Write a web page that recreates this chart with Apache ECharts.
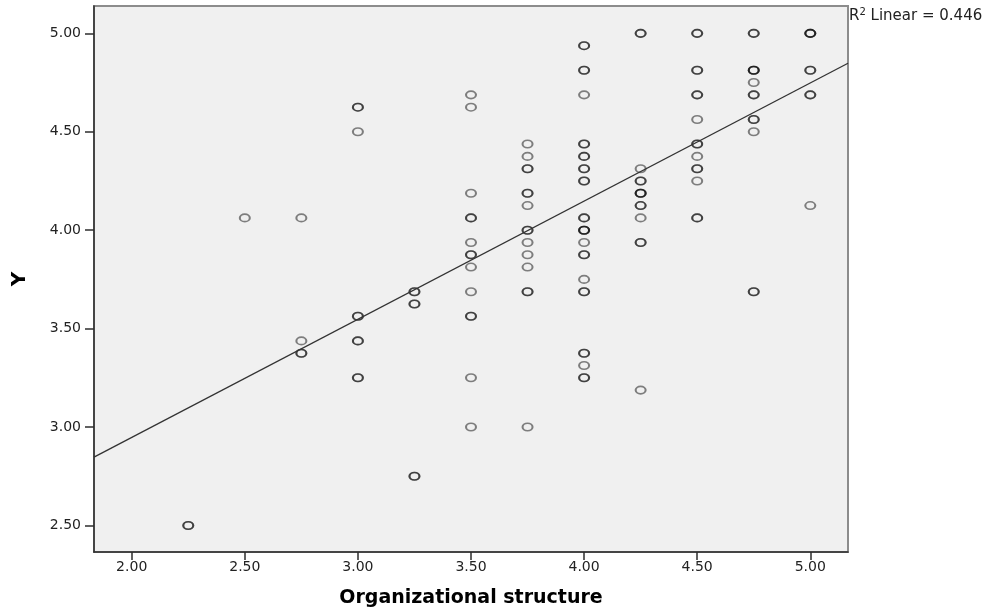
<!DOCTYPE html>
<html>
<head>
<meta charset="utf-8">
<title>Organizational structure vs Y</title>
<script src="https://cdn.jsdelivr.net/npm/echarts@6/dist/echarts.min.js"></script>
<style>
  html, body { margin: 0; padding: 0; background: #ffffff; }
  #chart { width: 987px; height: 612px; }
</style>
</head>
<body>
<div id="chart"></div>
<script>
// Y scores observed at each level of organizational structure.
// A value listed more than once marks respondents sharing the same point.
const y225 = [2.5, 2.5];
const y250 = [4.0625];
const y275 = [4.0625, 3.4375, 3.375, 3.375];
const y300 = [4.625, 4.625, 4.5, 3.5625, 3.5625, 3.4375, 3.4375, 3.25, 3.25];
const y325 = [3.6875, 3.6875, 3.625, 3.625, 2.75, 2.75];
const y350 = [4.6875, 4.625, 4.1875, 4.0625, 4.0625, 3.9375, 3.875, 3.875, 3.8125, 3.6875, 3.5625, 3.5625, 3.25, 3.0];
const y375 = [4.4375, 4.375, 4.3125, 4.3125, 4.1875, 4.1875, 4.125, 4.0, 4.0, 3.9375, 3.875, 3.8125, 3.6875, 3.6875, 3.0];
const y400 = [4.9375, 4.9375, 4.8125, 4.8125, 4.6875, 4.4375, 4.4375, 4.375, 4.375, 4.3125, 4.3125, 4.25, 4.25,
              4.0625, 4.0625, 4.0, 4.0, 4.0, 3.9375, 3.875, 3.875, 3.75, 3.6875, 3.6875, 3.375, 3.375, 3.3125, 3.25, 3.25];
const y425 = [5.0, 5.0, 4.3125, 4.25, 4.25, 4.1875, 4.1875, 4.1875, 4.125, 4.125, 4.0625, 3.9375, 3.9375, 3.1875];
const y450 = [5.0, 5.0, 4.8125, 4.8125, 4.6875, 4.6875, 4.5625, 4.4375, 4.4375, 4.375, 4.3125, 4.3125, 4.25, 4.0625, 4.0625];
const y475 = [5.0, 5.0, 4.8125, 4.8125, 4.8125, 4.75, 4.6875, 4.6875, 4.5625, 4.5625, 4.5, 3.6875, 3.6875];
const y500 = [5.0, 5.0, 5.0, 4.8125, 4.8125, 4.6875, 4.6875, 4.125];

const xLevels = [2.25, 2.5, 2.75, 3.0, 3.25, 3.5, 3.75, 4.0, 4.25, 4.5, 4.75, 5.0];
const yColumns = [y225, y250, y275, y300, y325, y350, y375, y400, y425, y450, y475, y500];

// Linear fit line end points (at the axis limits) and its R squared.
const fitX = [1.8333, 5.1667];
const fitY = [2.847, 4.848];
const rSquared = 0.446;

// Axis ranges and tick values.
const xRange = [1.8333, 5.1667];
const yRange = [2.365, 5.139];
const xTicks = [2.0, 2.5, 3.0, 3.5, 4.0, 4.5, 5.0];
const yTicks = [2.5, 3.0, 3.5, 4.0, 4.5, 5.0];

const points = [];
xLevels.forEach((x, i) => yColumns[i].forEach(y => points.push([x, y])));
const fitLine = fitX.map((x, i) => [x, fitY[i]]);

const FONT = 'DejaVu Sans';
const fmt = v => Number(v).toFixed(2);

const chart = echarts.init(document.getElementById('chart'), null, { renderer: 'canvas' });
chart.setOption({
  animation: false,
  backgroundColor: '#ffffff',
  grid: {
    left: 94, right: 139, top: 6, bottom: 60,
    outerBoundsMode: 'none',
    containLabel: false,
    show: true,
    backgroundColor: '#f0f0f0',
    borderColor: '#8c8c8c',
    borderWidth: 2
  },
  xAxis: {
    type: 'value',
    min: xRange[0], max: xRange[1],
    name: 'Organizational structure',
    nameLocation: 'middle',
    nameGap: 37,
    nameTextStyle: { fontFamily: FONT, fontWeight: 'bold', fontSize: 19, color: '#000' },
    axisLine: { show: true, lineStyle: { color: '#2e2e2e', width: 1.5 } },
    axisTick: { show: true, customValues: xTicks, length: 8, lineStyle: { color: '#2e2e2e', width: 1.5 } },
    axisLabel: { customValues: xTicks, formatter: fmt, fontFamily: FONT, fontSize: 14, color: '#222', margin: 8 },
    splitLine: { show: false }
  },
  yAxis: {
    type: 'value',
    min: yRange[0], max: yRange[1],
    name: 'Y',
    nameLocation: 'middle',
    nameRotate: 90,
    nameGap: 64,
    nameTextStyle: { fontFamily: FONT, fontWeight: 'bold', fontSize: 20, color: '#000' },
    axisLine: { show: true, lineStyle: { color: '#2e2e2e', width: 1.5 } },
    axisTick: { show: true, customValues: yTicks, length: 9, lineStyle: { color: '#2e2e2e', width: 1.5 } },
    axisLabel: { customValues: yTicks, formatter: fmt, fontFamily: FONT, fontSize: 14, color: '#222', margin: 13 },
    splitLine: { show: false }
  },
  graphic: [{
    type: 'text',
    left: 849,
    top: 7,
    style: {
      text: '{r|R}{s|2}{r| Linear = ' + rSquared.toFixed(3) + '}',
      rich: {
        r: { fontFamily: FONT, fontSize: 15, fill: '#222', lineHeight: 19 },
        s: { fontFamily: FONT, fontSize: 10, fill: '#222', verticalAlign: 'top', lineHeight: 19, padding: [0, 0, 6, 0] }
      }
    }
  }],
  series: [
    {
      type: 'scatter',
      data: points,
      symbol: 'circle',
      symbolSize: [10, 7.5],
      silent: true,
      itemStyle: { color: 'rgba(0,0,0,0)', borderColor: 'rgba(0,0,0,0.6)', borderWidth: 1.8 },
      z: 3
    },
    {
      type: 'line',
      data: fitLine,
      showSymbol: false,
      silent: true,
      lineStyle: { color: '#333333', width: 1.3 },
      z: 4
    }
  ]
});
</script>
</body>
</html>
